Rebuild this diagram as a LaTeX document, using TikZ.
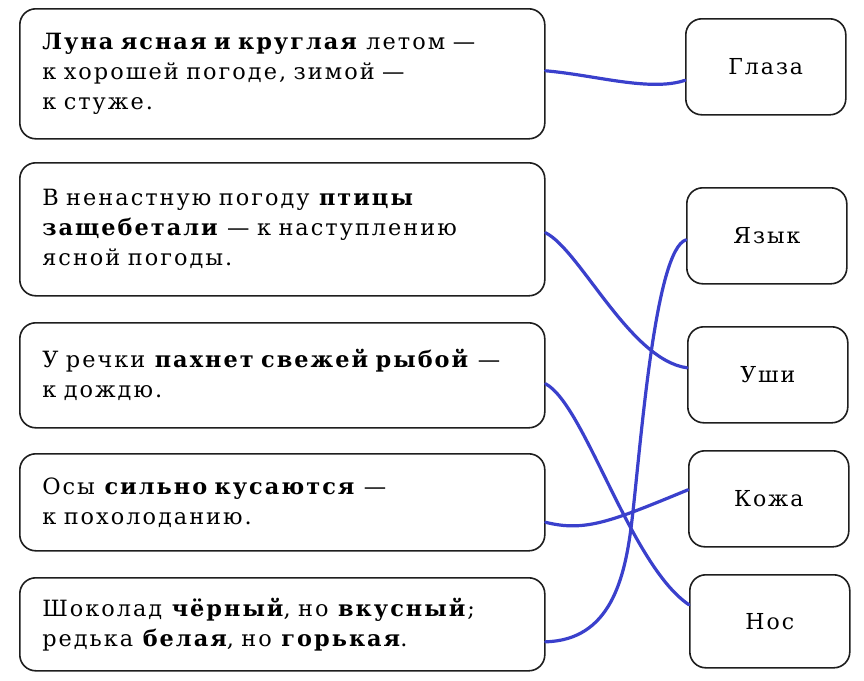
\documentclass[tikz,border=0pt]{standalone}
\usepackage{fontspec}
\setmainfont{DejaVu Serif}[LetterSpace=9]
\definecolor{pen}{RGB}{58,64,204}
\definecolor{frame}{RGB}{30,30,30}
\tikzset{
  sign/.style={draw=frame, line width=.8pt, rounded corners=8pt, anchor=north west,
    minimum width=262.5pt, text width=240pt, inner xsep=11pt, align=left,
    font=\fontsize{11.2}{15}\selectfont},
  organ/.style={draw=frame, line width=.8pt, rounded corners=8pt, anchor=north west,
    minimum width=80pt, minimum height=48pt, font=\fontsize{11}{15}\selectfont},
  match/.style={pen, line width=1.6pt, line cap=round}
}
\begin{document}
\begin{tikzpicture}[x=.5pt,y=-.5pt]
\useasboundingbox[fill=white] (0,0) rectangle (864,681);

% left column
\node[sign, minimum height=65pt] (luna) at (19,8)
  {\textbf{Луна ясная и круглая} летом —\\ к хорошей погоде, зимой —\\ к стуже.};
\node[sign, minimum height=66.5pt] (ptitsy) at (19,162)
  {В ненастную погоду \textbf{птицы}\\ \textbf{защебетали} — к наступлению\\ ясной погоды.};
\node[sign, minimum height=52.5pt] (rybka) at (19,322)
  {У речки \textbf{пахнет свежей рыбой} —\\ к дождю.};
\node[sign, minimum height=48.5pt] (osy) at (19,453)
  {Осы \textbf{сильно кусаются} —\\ к похолоданию.};
\node[sign, minimum height=46.5pt] (shokolad) at (19,577)
  {Шоколад \textbf{чёрный}, но \textbf{вкусный};\\ редька \textbf{белая}, но \textbf{горькая}.};

% right column
\node[organ] (glaza) at (685,18) {Глаза};
\node[organ] (yazyk) at (686,187) {Язык};
\node[organ] (ushi) at (687,326) {Уши};
\node[organ] (kozha) at (688,450) {Кожа};
\node[organ, minimum height=46.5pt] (nos) at (689,574) {Нос};

% answers
\draw[match] ([yshift=1.5pt]luna.east) .. controls (595,75) and (650,92) .. ([yshift=-6.75pt]glaza.west);
\draw[match] ([yshift=-1.75pt]ptitsy.east) .. controls (580,250) and (630,360) .. ([yshift=3.5pt]ushi.west);
\draw[match] ([yshift=-4.25pt]rybka.east) .. controls (585,405) and (630,565) .. ([yshift=8.25pt]nos.west);
\draw[match] ([yshift=-10pt]osy.east) .. controls (585,532) and (610,522) .. ([yshift=4.5pt]kozha.west);
\draw[match] ([yshift=-8.75pt]shokolad.east) .. controls (610,640) and (625,580) .. (632,520)
  .. controls (641,443) and (655,250) .. ([yshift=-2pt]yazyk.west);
\end{tikzpicture}
\end{document}
